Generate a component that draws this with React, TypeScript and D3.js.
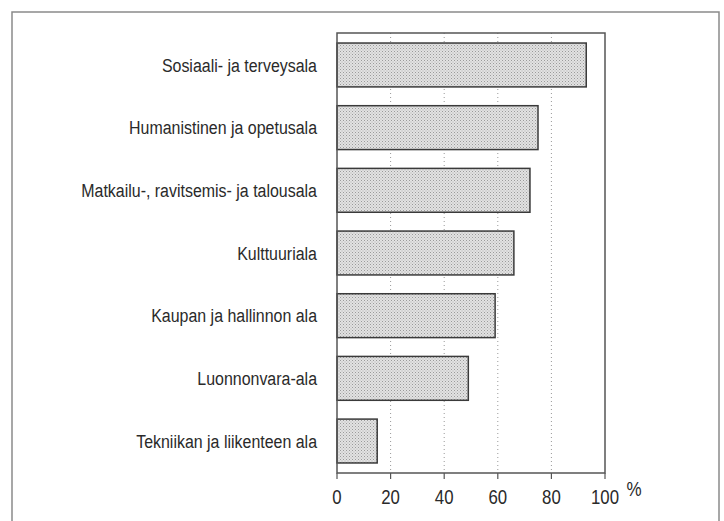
import React from 'react';
import * as d3 from 'd3';

const categories = [
  'Sosiaali- ja terveysala',
  'Humanistinen ja opetusala',
  'Matkailu-, ravitsemis- ja talousala',
  'Kulttuuriala',
  'Kaupan ja hallinnon ala',
  'Luonnonvara-ala',
  'Tekniikan ja liikenteen ala',
];
const values = [93, 75, 72, 66, 59, 49, 15];
const ticks = [0, 20, 40, 60, 80, 100];
const gridTicks = [20, 40, 60, 80];

const W = 724;
const H = 521;
const margin = { top: 33, right: 119, bottom: 48, left: 337 };
// no condensed font installed, so squeeze Liberation Sans horizontally
const FONT = '"Liberation Sans", Arial, sans-serif';
const SQUEEZE = 0.84;

export default function App() {
  const innerW = W - margin.left - margin.right;
  const innerH = H - margin.top - margin.bottom;

  const x = d3.scaleLinear().domain([0, 100]).range([0, innerW]);
  const y = d3.scaleBand<string>()
    .domain(categories)
    .range([0, innerH])
    .paddingInner(0.3)
    .paddingOuter(0.16);

  return (
    <svg width={W} height={H} style={{ position: 'absolute', left: 0, top: 0, background: '#fff' }}>
      <defs>
        <pattern id="stipple" width={3} height={3} patternUnits="userSpaceOnUse">
          <rect width={3} height={3} fill="#e2e2e2" />
          <rect x={0} y={0} width={1} height={1} fill="#9a9a9a" />
          <rect x={1.5} y={1.5} width={1} height={1} fill="#b0b0b0" />
        </pattern>
      </defs>

      {/* outer frame, runs off the bottom */}
      <path d={`M12,${H + 2} V12 H719 V${H + 2}`} fill="none" stroke="#8a8a8a" strokeWidth={1.5} />

      <g transform={`translate(${margin.left},${margin.top})`}>
        {/* dotted grid */}
        {gridTicks.map(t => (
          <line key={t} x1={x(t)} x2={x(t)} y1={0} y2={innerH}
            stroke="#999" strokeWidth={1} strokeDasharray="1,3" />
        ))}

        {/* bars */}
        {categories.map((c, i) => (
          <rect key={c} x={x(0)} y={y(c)} width={x(values[i]) - x(0)} height={y.bandwidth()}
            fill="url(#stipple)" stroke="#3a3a3a" strokeWidth={1.5} />
        ))}

        {/* plot box */}
        <rect x={0} y={0} width={innerW} height={innerH} fill="none" stroke="#555" strokeWidth={1.5} />

        {/* category labels */}
        {categories.map(c => (
          <text key={c}
            transform={`translate(-20,${(y(c) ?? 0) + y.bandwidth() / 2}) scale(${SQUEEZE},1)`}
            dy="0.35em" textAnchor="end" fontFamily={FONT} fontSize={19} fill="#2a2a2a">{c}</text>
        ))}

        {/* x axis */}
        {ticks.map(t => (
          <g key={t} transform={`translate(${x(t)},${innerH})`}>
            <line y1={0} y2={6} stroke="#555" strokeWidth={1.2} />
            <text transform={`translate(0,24) scale(0.8,1)`} dy="0.35em" textAnchor="middle"
              fontFamily={FONT} fontSize={21} fill="#2a2a2a">{t}</text>
          </g>
        ))}
        <text transform={`translate(${innerW + 29},${innerH + 16}) scale(0.85,1)`} dy="0.35em"
          textAnchor="middle" fontFamily={FONT} fontSize={20} fill="#2a2a2a">%</text>
      </g>
    </svg>
  );
}
